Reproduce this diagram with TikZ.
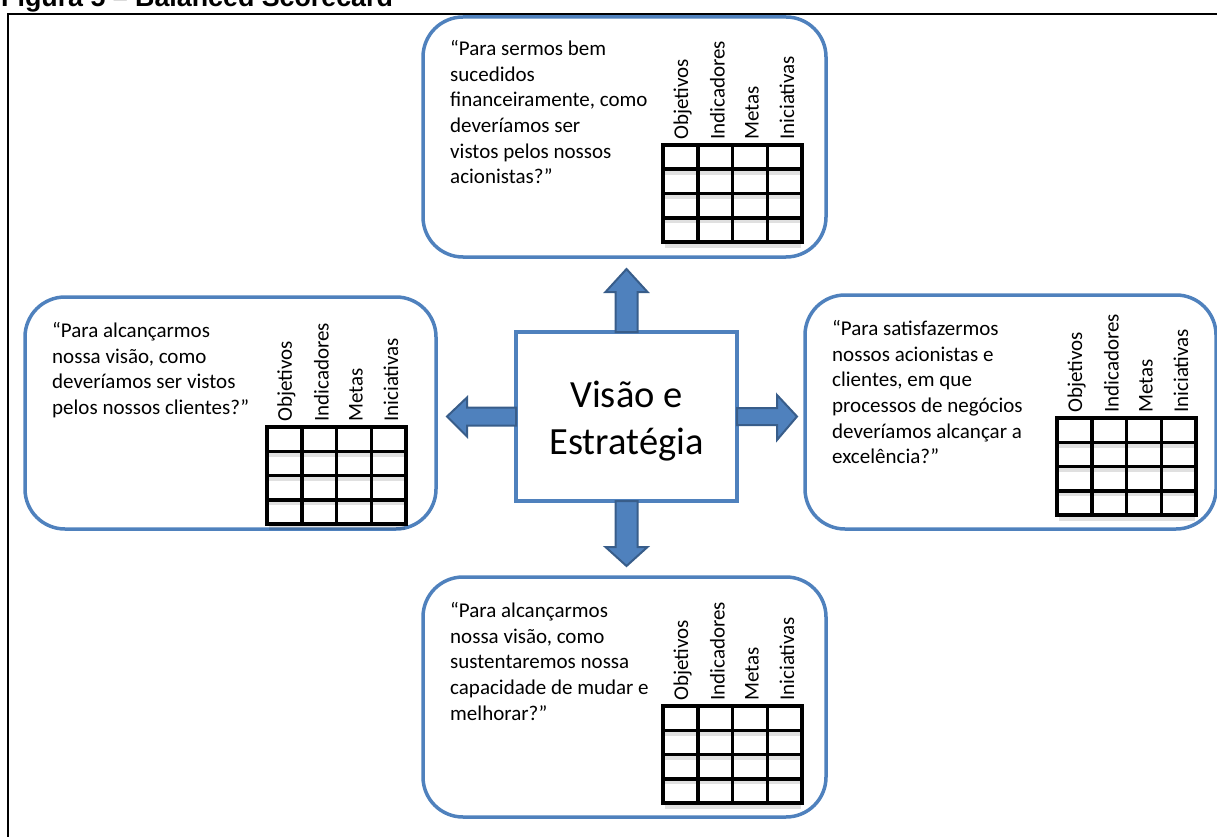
\documentclass[tikz,border=0pt]{standalone}
\usepackage{fontspec}
\setmainfont{Carlito}
\newfontfamily\titlefont{Liberation Sans}
\definecolor{boxblue}{RGB}{79,129,189}
\definecolor{arrowedge}{RGB}{56,93,138}
\tikzset{
  frameline/.style={line width=2pt, black},
  roundbox/.style={draw=boxblue, line width=3.5pt, rounded corners=40pt, rectangle, outer sep=0pt, inner sep=0pt},
  centerbox/.style={draw=boxblue, line width=3.2pt, rectangle, outer sep=0pt, inner sep=0pt, minimum width=221pt, minimum height=169pt},
  blockarrow/.style={fill=boxblue, draw=arrowedge, line width=2pt, line join=miter},
  quote/.style={anchor=north west, align=left, inner sep=0pt, font=\fontsize{21}{25.7}\selectfont},
  collabel/.style={rotate=90, anchor=west, inner sep=0pt, font=\fontsize{21}{25}\selectfont},
  gridline/.style={line width=3.5pt, black, line cap=rect},
  gridshadow/.style={line width=4pt, black, opacity=0.12},
}
\newcommand{\scoretable}[3]{%
  \begin{scope}[shift={(#1,#2)}]
    \foreach \j in {1,2,3,4} \draw[gridshadow] (2,24.25*\j+3.5) -- (138,24.25*\j+3.5);
    \draw[gridline] (0,0) rectangle (139,97);
    \foreach \i in {1,2,3} \draw[gridline] (34.75*\i,0) -- (34.75*\i,97);
    \foreach \j in {1,2,3} \draw[gridline] (0,24.25*\j) -- (139,24.25*\j);
    \node[collabel] (#3-obj) at (19.5,-5) {Objetivos};
    \node[collabel] (#3-ind) at (54.5,-5) {Indicadores};
    \node[collabel] (#3-met) at (89,-5) {Metas};
    \node[collabel] (#3-ini) at (124,-5) {Iniciativas};
  \end{scope}}
\begin{document}
\begin{tikzpicture}[x=1pt,y=-1pt]
\useasboundingbox (0,0) rectangle (1217,837);
% title and frame
\node[anchor=base west, inner sep=0pt, font=\titlefont\bfseries\fontsize{26.8}{30}\selectfont] (title) at (1,7) {Figura 5 – Balanced Scorecard};
\draw[frameline] (8,845) -- (8,14) -- (1225,14);
% perspective boxes
\node[roundbox, minimum width=403pt, minimum height=240pt] (fin) at (624.5,137) {};
\node[roundbox, minimum width=411pt, minimum height=232pt] (cli) at (230.5,413) {};
\node[roundbox, minimum width=411pt, minimum height=234pt] (proc) at (1010.5,412) {};
\node[roundbox, minimum width=403pt, minimum height=240pt] (apr) at (624.5,697) {};
% center
\node[centerbox] (vis) at (626.5,416.5) {};
\node[align=center, inner sep=0pt, font=\fontsize{38.5}{47}\selectfont] (vistext) at (626.5,421.5) {Visão e\\Estratégia};
% arrows
\begin{scope}[shift={(vis.north)}]
  \draw[blockarrow] (-11,0) -- (-11,-40) -- (-21,-40) -- (0,-63) -- (21,-40) -- (11,-40) -- (11,0) -- cycle;
\end{scope}
\begin{scope}[shift={(vis.south)}]
  \draw[blockarrow] (-11,0) -- (-11,46) -- (-21,46) -- (0,65) -- (21,46) -- (11,46) -- (11,0) -- cycle;
\end{scope}
\begin{scope}[shift={(vis.east)}]
  \draw[blockarrow] (0,-8.5) -- (40,-8.5) -- (40,-21.5) -- (60,0) -- (40,23.5) -- (40,8.5) -- (0,8.5) -- cycle;
\end{scope}
\begin{scope}[shift={(vis.west)}]
  \draw[blockarrow] (0,-9) -- (-49,-9) -- (-49,-19) -- (-69,0) -- (-49,20) -- (-49,9) -- (0,9) -- cycle;
\end{scope}
% texts
\node[quote] (finq) at (450,40) {“Para sermos bem\\sucedidos\\financeiramente, como\\deveríamos ser\\vistos pelos nossos\\acionistas?”};
\node[quote] (cliq) at (52,322) {“Para alcançarmos\\nossa visão, como\\deveríamos ser vistos\\pelos nossos clientes?”};
\node[quote] (procq) at (832,320) {“Para satisfazermos\\nossos acionistas e\\clientes, em que\\processos de negócios\\deveríamos alcançar a\\excelência?”};
\node[quote] (aprq) at (450,602) {“Para alcançarmos\\nossa visão, como\\sustentaremos nossa\\capacidade de mudar e\\melhorar?”};
% tables
\scoretable{663}{145}{tfin}
\scoretable{267}{427}{tcli}
\scoretable{1057}{418}{tproc}
\scoretable{663}{706}{tapr}
\end{tikzpicture}
\end{document}
